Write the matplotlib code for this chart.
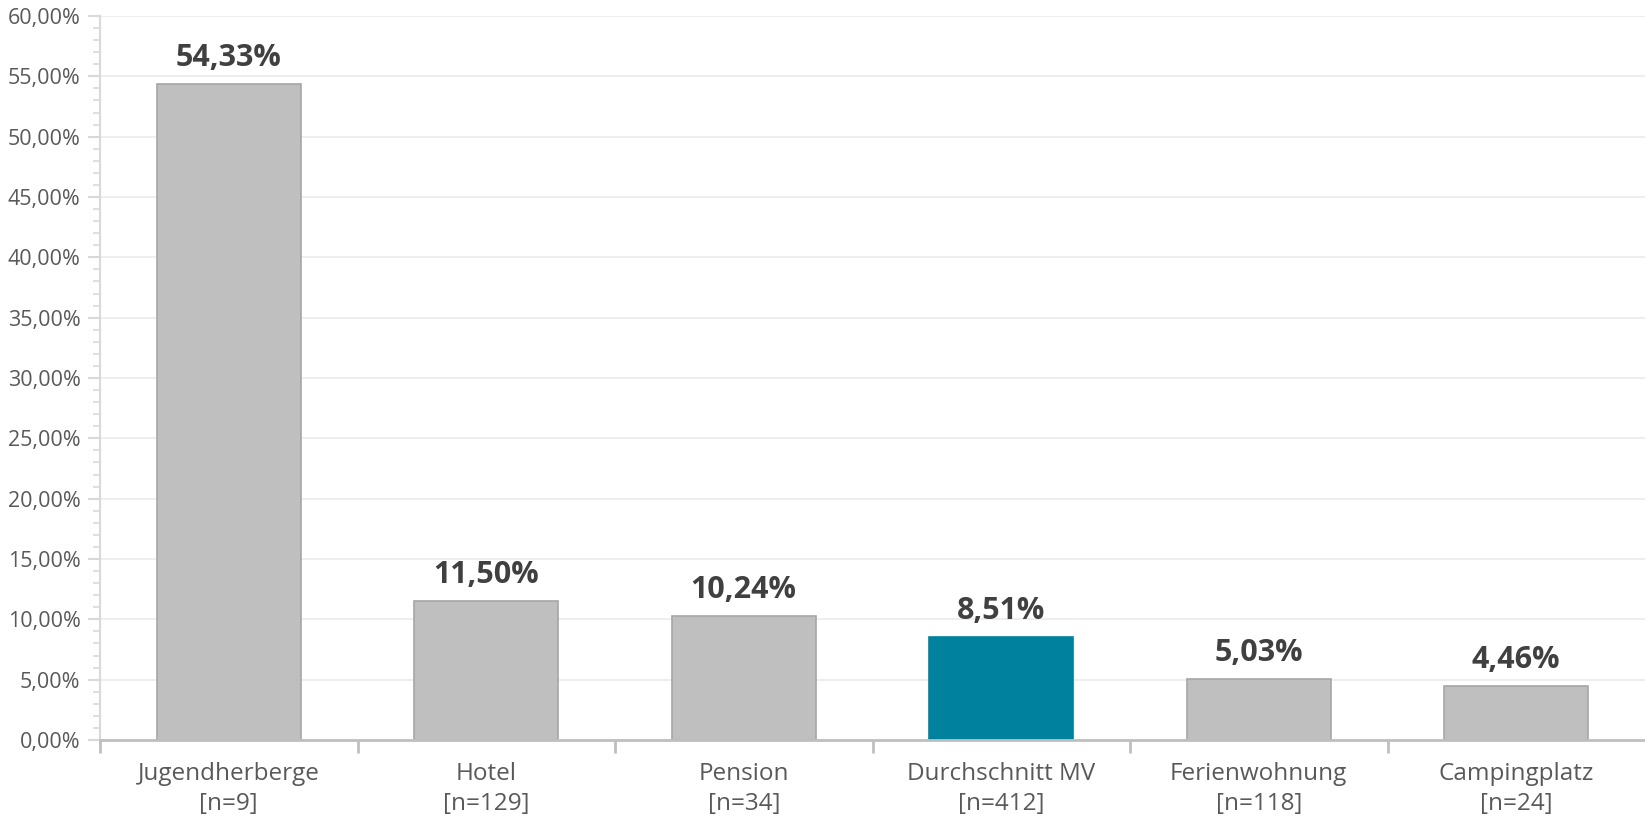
import matplotlib.pyplot as plt
import numpy as np
from matplotlib.ticker import FuncFormatter, MultipleLocator, FixedLocator

categories = ['Jugendherberge', 'Hotel', 'Pension', 'Durchschnitt MV', 'Ferienwohnung', 'Campingplatz']
sample_sizes = [9, 129, 34, 412, 118, 24]
values = [54.33, 11.50, 10.24, 8.51, 5.03, 4.46]
highlight = 'Durchschnitt MV'

plt.rcParams['font.family'] = ['Open Sans', 'DejaVu Sans']

fig = plt.figure(figsize=(16.45, 8.22), dpi=100)
ax = fig.add_axes([100 / 1645, 1 - 740 / 822, 1 - 100 / 1645, (740 - 16) / 822])

x = np.arange(len(categories))
colors = ['#00829F' if c == highlight else '#BFBFBF' for c in categories]
edges = ['#00829F' if c == highlight else '#A6A6A6' for c in categories]
ax.bar(x, values, width=0.56, color=colors, edgecolor=edges, linewidth=1.2, zorder=3)

# value labels above the bars
for xi, v in zip(x, values):
    ax.annotate(f'{v:.2f}%'.replace('.', ','), (xi, v), xytext=(0, 8), textcoords='offset points',
                ha='center', va='bottom', fontsize=22, fontweight='bold', color='#404040')

ax.set_xlim(-0.5, len(categories) - 0.5)
ax.set_ylim(0, 60)

# y axis
ax.yaxis.set_major_locator(MultipleLocator(5))
ax.yaxis.set_minor_locator(MultipleLocator(1))
ax.yaxis.set_major_formatter(FuncFormatter(lambda v, p: f'{v:.2f}%'.replace('.', ',')))
ax.tick_params(axis='y', which='major', length=9, width=1.5, color='#D9D9D9', labelsize=15.5,
               labelcolor='#595959', pad=5)
ax.tick_params(axis='y', which='minor', length=5, width=1.2, color='#D9D9D9')
ax.grid(axis='y', which='major', color='#EBEBEB', linewidth=1.2, zorder=0)

# x axis: labels at centers, tick marks at category boundaries
ax.set_xticks(x)
ax.set_xticklabels([f'{c}\n[n={n}]' for c, n in zip(categories, sample_sizes)])
ax.xaxis.set_minor_locator(FixedLocator(np.arange(-0.5, len(categories) - 0.5, 1)))
ax.tick_params(axis='x', which='major', length=0, labelsize=17.5, labelcolor='#595959', pad=16)
ax.tick_params(axis='x', which='minor', length=9, width=2, color='#BFBFBF')
for lbl in ax.get_xticklabels():
    lbl.set_linespacing(1.3)

for s in ['top', 'right']:
    ax.spines[s].set_visible(False)
ax.spines['left'].set_color('#D9D9D9')
ax.spines['left'].set_linewidth(1.5)
ax.spines['bottom'].set_color('#BFBFBF')
ax.spines['bottom'].set_linewidth(2)
ax.spines['bottom'].set_zorder(4)

fig.savefig('out.png', dpi=100, facecolor='white')
